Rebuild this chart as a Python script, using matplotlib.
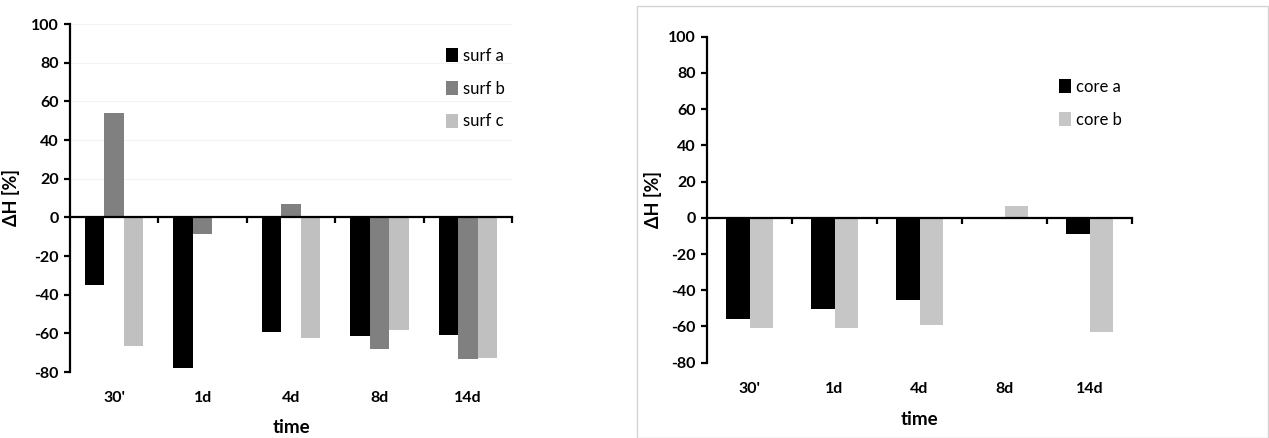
import matplotlib
matplotlib.use("Agg")
import matplotlib.pyplot as plt
import numpy as np
from matplotlib.patches import Rectangle
from matplotlib.transforms import blended_transform_factory

categories = ["30'", "1d", "4d", "8d", "14d"]
surf_a = [-34.9, -77.7, -59.5, -61.6, -60.9]
surf_b = [53.8, -8.8, 6.7, -68.2, -73.5]
surf_c = [-66.8, 0, -62.5, -58.5, -72.5]
core_a = [-55.6, -50.3, -45.5, 0, -9.2]
core_b = [-61.1, -61.1, -59.3, 6.6, -63.0]
yticks = [-80, -60, -40, -20, 0, 20, 40, 60, 80, 100]

plt.rcParams['font.family'] = ['Lato', 'DejaVu Sans']

W, H = 1269, 438
fig = plt.figure(figsize=(W / 100, H / 100), dpi=100)
fig.patch.set_facecolor('white')

# frame around right panel
fig.patches.append(Rectangle((637 / W, 0), 1 - 637 / W - 0.0005, (H - 6) / H,
                             transform=fig.transFigure, fill=False,
                             edgecolor='#d4d4d4', linewidth=1.0))


def setup(ax, ylabel_x, label_y_off, time_y_off):
    ax.set_ylim(-80, 100)
    ax.set_xlim(-0.5, 4.5)
    ax.set_yticks(yticks)
    ax.set_yticklabels([str(v) for v in yticks], fontweight='bold', fontsize=11.5)
    ax.spines['top'].set_visible(False)
    ax.spines['right'].set_visible(False)
    ax.spines['bottom'].set_position(('data', 0))
    ax.spines['left'].set_linewidth(1.6)
    ax.spines['bottom'].set_linewidth(1.6)
    ax.set_xticks([0.5, 1.5, 2.5, 3.5, 4.5])
    ax.set_xticklabels([])
    ax.tick_params(axis='x', direction='out', length=4, width=1.6)
    ax.tick_params(axis='y', direction='out', length=4, width=1.6, pad=4)
    tr = blended_transform_factory(ax.transData, ax.transAxes)
    for i, c in enumerate(categories):
        ax.text(i, label_y_off, c, transform=tr, ha='center', va='center',
                fontsize=11.5, fontweight='bold')
    ax.text(0.5, time_y_off, 'time', transform=ax.transAxes, ha='center',
            va='center', fontsize=13.5, fontweight='bold')
    ax.set_ylabel('ΔH [%]', fontsize=13, fontweight='bold')
    ax.yaxis.set_label_coords(ylabel_x, 0.5)


# Left panel
ax1 = fig.add_axes([70 / W, (H - 372) / H, 442 / W, 348 / H])
for v in [20, 40, 60, 80, 100]:
    ax1.axhline(v, color='#f3f3f3', linewidth=0.8, zorder=0)
x = np.arange(len(categories))
bw = 0.22
cols1 = ['#000000', '#808080', '#c0c0c0']
for k, (vals, lab) in enumerate([(surf_a, 'surf a'), (surf_b, 'surf b'), (surf_c, 'surf c')]):
    ax1.bar(x + (k - 1) * bw, vals, bw, color=cols1[k], label=lab, zorder=2)
setup(ax1, -0.113, -0.075, -0.16)
ax1.legend(loc='upper left', bbox_to_anchor=((431 - 70) / 442, 1 - (33 - 24) / 348),
           frameon=False, handlelength=0.7, handleheight=0.9, handletextpad=0.3,
           labelspacing=1.0, fontsize=12)

# Right panel
ax2 = fig.add_axes([707 / W, (H - 362.7) / H, 425 / W, 326 / H])
bw2 = 0.28
cols2 = ['#000000', '#c6c6c6']
for k, (vals, lab) in enumerate([(core_a, 'core a'), (core_b, 'core b')]):
    ax2.bar(x + (k - 0.5) * bw2, vals, bw2, color=cols2[k], label=lab, zorder=2)
setup(ax2, -0.105, -0.08, -0.175)
ax2.legend(loc='upper left', bbox_to_anchor=((1044 - 707) / 425, 1 - (64 - 36.7) / 326),
           frameon=False, handlelength=0.7, handleheight=0.9, handletextpad=0.3,
           labelspacing=1.0, fontsize=12)

fig.savefig('out.png', dpi=100)
